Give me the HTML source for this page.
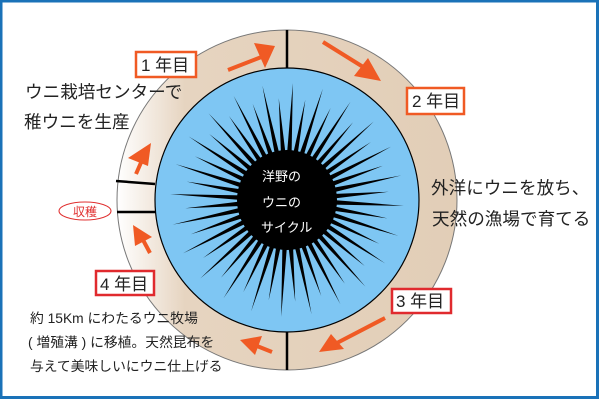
<!DOCTYPE html>
<html><head><meta charset="utf-8"><style>
html,body{margin:0;padding:0;background:#fff}
svg{display:block}
text{font-family:"Liberation Sans","Noto Sans CJK JP",sans-serif}
</style></head><body>
<svg id="s" width="600" height="400" viewBox="0 0 600 400" xmlns="http://www.w3.org/2000/svg">
<defs>
<linearGradient id="g" x1="0" x2="1" y1="0" y2="0">
<stop offset="0" stop-color="#ffffff"/>
<stop offset="0.2" stop-color="#e6d4c0"/>
<stop offset="1" stop-color="#e2ceb7"/>
</linearGradient>
</defs>
<rect x="0" y="0" width="600" height="400" fill="#fff"/>
<rect x="1" y="1" width="596.5" height="396.5" fill="none" stroke="#1a72b8" stroke-width="3"/>
<circle cx="287" cy="200" r="170" fill="url(#g)" stroke="#777" stroke-width="1"/>
<circle cx="287" cy="200" r="132" fill="#7ec6f3" stroke="#000" stroke-width="1.2"/>
<g id="sp"></g>
<circle cx="287" cy="200" r="50" fill="#000"/>
<line x1="287" y1="30" x2="287" y2="68" stroke="#000" stroke-width="2.5"/>
<line x1="287" y1="332" x2="287" y2="370" stroke="#000" stroke-width="2.5"/>
<line x1="116" y1="181" x2="155" y2="184" stroke="#000" stroke-width="2.5"/>
<line x1="117" y1="212" x2="155" y2="212" stroke="#000" stroke-width="2.5"/>
<g stroke="#f05a24" stroke-width="4" fill="#f05a24">
<line x1="228" y1="70" x2="264" y2="56"/><polygon points="275,46 254,43 265,68" stroke="none"/>
<line x1="323" y1="42" x2="368" y2="70"/><polygon points="381,81 368,58 354,76" stroke="none"/>
<line x1="385" y1="318" x2="335" y2="344"/><polygon points="319,352 331,334 344,349" stroke="none"/>
<line x1="272" y1="352" x2="252" y2="344"/><polygon points="240,340 262,336 255,355" stroke="none"/>
<line x1="150" y1="253" x2="142" y2="238"/><polygon points="133,225 135,246 152,237" stroke="none"/>
<line x1="136" y1="174" x2="143" y2="158"/><polygon points="151,143 128,158 148,166" stroke="none"/>
</g>
<g fill="#fff" stroke-width="2.5">
<rect x="136" y="52" width="60" height="25" stroke="#f05a24"/>
<rect x="407" y="88" width="57" height="26" stroke="#f05a24"/>
<rect x="392" y="289" width="59" height="24" stroke="#e02a2e"/>
<rect x="96" y="271" width="58" height="24" stroke="#e02a2e"/>
</g>
<g font-size="17" fill="#222">
<text x="141" y="71">1 年目</text>
<text x="412" y="107">2 年目</text>
<text x="396" y="307">3 年目</text>
<text x="100" y="290">4 年目</text>
</g>
<g font-size="17.6" fill="#222">
<text x="25" y="98">ウニ栽培センターで</text>
<text x="24" y="128">稚ウニを生産</text>
<text x="431" y="194">外洋にウニを放ち、</text>
<text x="432" y="225">天然の漁場で育てる</text>
</g>
<g font-size="13.8" fill="#222">
<text x="30" y="323">約 15Km にわたるウニ牧場</text>
<text x="28" y="347">( 増殖溝 ) に移植。天然昆布を</text>
<text x="30" y="371">与えて美味しいにウニ仕上げる</text>
</g>
<ellipse cx="85" cy="211" rx="26" ry="9" fill="#fff" stroke="#e03030" stroke-width="1"/>
<text x="85" y="216" font-size="12" fill="#e03030" text-anchor="middle">収穫</text>
<g font-size="13" fill="#fff">
<text x="262" y="181">洋野の</text>
<text x="262" y="207">ウニの</text>
<text x="261" y="232">サイクル</text>
</g>
</svg>
<script>
var g=document.getElementById('sp'),cx=287,cy=200,n=48,h='';
for(var i=0;i<n;i++){var a=i/n*2*Math.PI+0.05,L=(i%2?102:117),w=0.05;
var r0=46;
var x1=cx+r0*Math.cos(a-w),y1=cy+r0*Math.sin(a-w),x2=cx+r0*Math.cos(a+w),y2=cy+r0*Math.sin(a+w),x3=cx+L*Math.cos(a),y3=cy+L*Math.sin(a);
h+='<polygon fill="#000" points="'+x1+','+y1+' '+x3+','+y3+' '+x2+','+y2+'"/>';}
g.innerHTML=h;
</script>
</body></html>
